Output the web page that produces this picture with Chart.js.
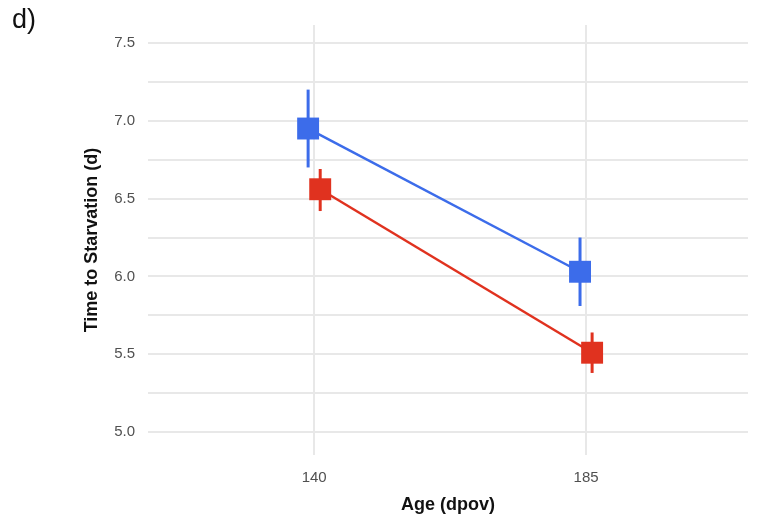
<!DOCTYPE html>
<html>
<head>
<meta charset="utf-8">
<script src="https://cdn.jsdelivr.net/npm/chart.js@4"></script>
<style>
  html, body { margin: 0; padding: 0; background: #fff; overflow: hidden; }
  #wrap { position: relative; width: 757px; height: 521px; }
  canvas { display: block; }
  #panel { position: absolute; left: 12px; top: 4px; font: 27px "Liberation Sans", Arial, sans-serif; color: #111; }
</style>
</head>
<body>
<div id="wrap">
  <canvas id="c" width="757" height="521"></canvas>
  <div id="panel">d)</div>
</div>
<script>
// ---- data ----
const ages = [140, 185];
const blueMean = [6.95, 6.03];
const blueLow  = [6.70, 5.81];
const blueHigh = [7.20, 6.25];
const redMean  = [6.56, 5.51];
const redLow   = [6.42, 5.38];
const redHigh  = [6.69, 5.64];
const yMajorTicks = [5.0, 5.5, 6.0, 6.5, 7.0, 7.5];
const yMinorTicks = [5.25, 5.75, 6.25, 6.75, 7.25];

// ---- style ----
const BLUE = '#3c6cea';
const RED = '#e0321f';
const DODGE = 1.0; // horizontal dodge in x units
const FONT = '"Liberation Sans", Arial, sans-serif';

const mk = (means, lows, highs, shift) => ages.map((a, i) => ({ x: a + shift, y: means[i], lo: lows[i], hi: highs[i] }));

const errorBars = {
  id: 'errorBars',
  beforeDatasetsDraw(chart) {
    const { ctx, scales: { x, y } } = chart;
    chart.data.datasets.forEach((ds, di) => {
      if (!chart.isDatasetVisible(di)) return;
      ctx.save();
      ctx.strokeStyle = ds.borderColor;
      ctx.lineWidth = 3;
      ds.data.forEach(p => {
        const px = x.getPixelForValue(p.x);
        ctx.beginPath();
        ctx.moveTo(px, y.getPixelForValue(p.lo));
        ctx.lineTo(px, y.getPixelForValue(p.hi));
        ctx.stroke();
      });
      ctx.restore();
    });
  }
};

const allYTicks = yMajorTicks.concat(yMinorTicks).sort((a, b) => a - b);

new Chart(document.getElementById('c'), {
  type: 'line',
  data: {
    datasets: [
      { label: 'A', data: mk(blueMean, blueLow, blueHigh, -DODGE), borderColor: BLUE, backgroundColor: BLUE,
        borderWidth: 2.5, pointStyle: 'rect', pointRadius: 15.5, pointHoverRadius: 15.5, pointBorderWidth: 0 },
      { label: 'B', data: mk(redMean, redLow, redHigh, DODGE), borderColor: RED, backgroundColor: RED,
        borderWidth: 2.5, pointStyle: 'rect', pointRadius: 15.5, pointHoverRadius: 15.5, pointBorderWidth: 0 }
    ]
  },
  options: {
    responsive: false,
    animation: false,
    events: [],
    layout: { autoPadding: false, padding: { left: 0, right: 9, top: 25, bottom: 0 } },
    plugins: { legend: { display: false }, tooltip: { enabled: false } },
    scales: {
      x: {
        type: 'linear',
        min: 112.5,
        max: 211.8,
        afterBuildTicks: s => { s.ticks = ages.map(v => ({ value: v })); },
        afterFit: s => { s.height = 66; s.paddingLeft = 0; s.paddingRight = 0; },
        grid: { color: '#e8e8e8', lineWidth: 2, drawTicks: false },
        border: { display: false },
        ticks: { color: '#505050', font: { family: FONT, size: 15 }, padding: 14, maxRotation: 0 },
        title: { display: true, text: 'Age (dpov)', color: '#111', font: { family: FONT, size: 18, weight: 'bold' }, padding: { top: 0, bottom: 5 } }
      },
      y: {
        min: 4.853,
        max: 7.615,
        afterBuildTicks: s => { s.ticks = allYTicks.map(v => ({ value: v })); },
        afterFit: s => { s.width = 148; s.paddingTop = 0; s.paddingBottom = 0; },
        grid: { color: '#e8e8e8', lineWidth: 2, drawTicks: false },
        border: { display: false },
        ticks: {
          color: '#505050', font: { family: FONT, size: 15 }, padding: 13,
          callback: v => yMajorTicks.includes(v) ? v.toFixed(1) : ''
        },
        title: { display: true, text: 'Time to Starvation (d)', color: '#111', font: { family: FONT, size: 18, weight: 'bold' }, padding: { top: 81, bottom: 0 } }
      }
    }
  },
  plugins: [errorBars]
});
</script>
</body>
</html>
